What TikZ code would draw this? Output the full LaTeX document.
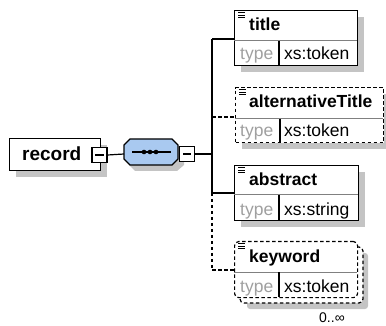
\documentclass[tikz,border=0pt]{standalone}
\usepackage{fontspec}
\setmainfont{Liberation Sans}
\definecolor{shadowgray}{HTML}{C4C4C4}
\definecolor{typegray}{HTML}{A0A0A0}
\definecolor{divgray}{HTML}{808080}
\definecolor{seqblue}{HTML}{A9C9F0}
\begin{document}
\begin{tikzpicture}[x=1pt,y=-1pt,
  elbox/.style={draw=black,fill=white,line width=1.2pt,inner sep=0pt,anchor=north west},
  conn/.style={line width=1.2pt},
  dsh/.style={dash pattern=on 3.5pt off 2.5pt},
  nm/.style={font=\fontsize{17.5}{20}\selectfont\bfseries,anchor=base west,inner sep=0pt},
  tp/.style={font=\fontsize{17.5}{20}\selectfont,text=typegray,anchor=base west,inner sep=0pt},
  tv/.style={font=\fontsize{17.5}{20}\selectfont,anchor=base west,inner sep=0pt},
  minusbox/.style={draw=black,fill=white,line width=1.2pt,minimum width=15pt,minimum height=15pt,inner sep=0pt},
  icon/.style={line width=0.9pt}
]
\useasboundingbox (0,0) rectangle (386,326);

% ---------- record ----------
\fill[shadowgray] (16,145) rectangle (107,177);
\node[elbox,minimum width=91pt,minimum height=32pt] (record) at (9,138) {};
\node[nm,font=\fontsize{19}{22}\selectfont\bfseries] (recordlbl) at (22,161) {record};
\node[minusbox] (recminus) at (99.5,155) {};
\draw[line width=1.2pt] (95,155) -- (104,155);

% ---------- sequence ----------
\fill[shadowgray] (135,145) -- (177,145) -- (184,152) -- (184,165) -- (177,171) -- (135,171) -- (129,165) -- (129,152) -- cycle;
\node[inner sep=0pt,minimum width=54pt,minimum height=26pt] (seq) at (151,152) {};
\filldraw[fill=seqblue,draw=black,line width=1.2pt]
  (130,139) -- (172,139) -- (178,145) -- (178,159) -- (172,165) -- (130,165) -- (124,159) -- (124,145) -- cycle;
\draw[line width=1.2pt] (132,152) -- (171,152);
\foreach \xx in {144,150,156} \fill (\xx,152) circle (2.3pt);
\node[minusbox] (seqminus) at (187,154) {};
\draw[line width=1.2pt] (183,154) -- (191,154);

\draw[conn] (recminus.east) -- (124,154);
\coordinate (bus) at (212,154);
\draw[conn] (seqminus.east) -- (bus);

% bus
\coordinate (bT) at (212,39);
\coordinate (bA) at (212,117);
\coordinate (bB) at (212,193);
\coordinate (bK) at (212,270);
\draw[conn] (bT) -- (bB);
\draw[conn,dsh] (bB) -- (bK);

% ---------- title ----------
\fill[shadowgray] (241,17) rectangle (364,72);
\node[elbox,minimum width=123pt,minimum height=55pt] (title) at (234,10) {};
\draw[divgray,line width=1pt] (234,41) -- (357,41);
\draw[line width=1.2pt] (279,41) -- (279,65);
\foreach \yy in {12.5,15,17.5} \draw[icon] (238,\yy) -- (245,\yy);
\node[nm] (titlelbl) at (249,31) {title};
\node[tp] (titletp) at (240,60) {type};
\node[tv] (titletv) at (284,60) {xs:token};
\draw[conn] (bT) -- (title.west |- bT);

% ---------- alternativeTitle ----------
\fill[shadowgray] (242,94) rectangle (390,149);
\node[elbox,dsh,minimum width=148pt,minimum height=55pt] (alt) at (235,87) {};
\draw[divgray,line width=1pt] (235,119) -- (383,119);
\draw[line width=1.2pt] (280,119) -- (280,142);
\foreach \yy in {89.5,92,94.5} \draw[icon] (239,\yy) -- (246,\yy);
\node[nm] (altlbl) at (249,108) {alternativeTitle};
\node[tp] (alttp) at (240,137) {type};
\node[tv] (alttv) at (284,137) {xs:token};
\draw[conn,dsh] (bA) -- (alt.west |- bA);

% ---------- abstract ----------
\fill[shadowgray] (241,172) rectangle (365,227);
\node[elbox,minimum width=124pt,minimum height=55pt] (abstract) at (234,165) {};
\draw[divgray,line width=1pt] (234,195) -- (358,195);
\draw[line width=1.2pt] (279,195) -- (279,220);
\foreach \yy in {167.5,170,172.5} \draw[icon] (238,\yy) -- (245,\yy);
\node[nm] (abslbl) at (249,186) {abstract};
\node[tp] (abstp) at (240,215) {type};
\node[tv] (abstv) at (284,215) {xs:string};
\draw[conn] (bB) -- (abstract.west |- bB);

% ---------- keyword ----------
\fill[shadowgray,rounded corners=3pt] (247,253) rectangle (368,309);
\draw[line width=1.2pt,dsh,fill=white,rounded corners=4pt] (240,247) rectangle (363,303);
\node[elbox,dsh,rounded corners=4pt,minimum width=123pt,minimum height=56pt] (keyword) at (234,241) {};
\draw[divgray,line width=1pt] (234,272) -- (357,272);
\draw[line width=1.2pt] (279,272) -- (279,297);
\foreach \yy in {243.5,246,248.5} \draw[icon] (238,\yy) -- (245,\yy);
\node[nm] (kwlbl) at (249,262) {keyword};
\node[tp] (kwtp) at (240,292) {type};
\node[tv] (kwtv) at (284,292) {xs:token};
\draw[conn,dsh] (bK) -- (keyword.west |- bK);
\node[font=\fontsize{14}{16}\selectfont,anchor=base west,inner sep=0pt] (kwocc) at (319,323) {0..∞};
\end{tikzpicture}
\end{document}
